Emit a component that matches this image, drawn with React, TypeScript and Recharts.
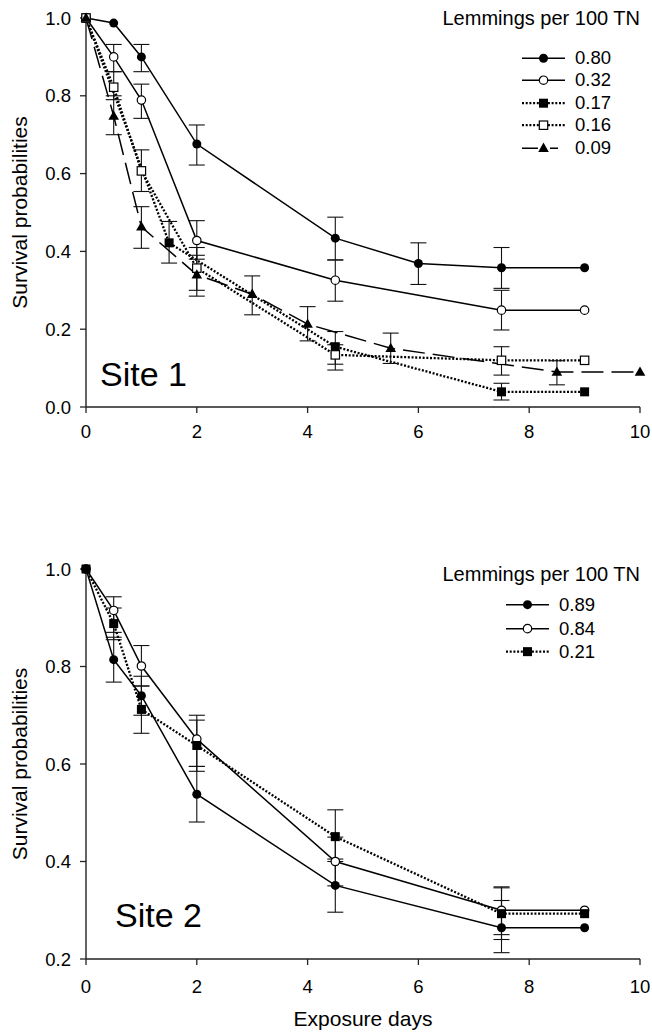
import React from "react";
import { ErrorBar, Label, Legend, Line, LineChart, XAxis, YAxis } from "recharts";

const FONT = '"Liberation Sans", Arial, Helvetica, sans-serif';
const INK = "#000";

// ---- Site 1 (days, survival, lower/upper error bounds) ----
const s1Days080 = [0, 0.5, 1, 2, 4.5, 6, 7.5, 9];
const s1Surv080 = [1.0, 0.987, 0.9, 0.676, 0.434, 0.369, 0.358, 0.358];
const s1Low080 = [null, null, 0.862, 0.622, 0.378, 0.315, 0.305, null];
const s1High080 = [null, null, 0.932, 0.725, 0.488, 0.422, 0.41, null];

const s1Days032 = [0, 0.5, 1, 2, 4.5, 7.5, 9];
const s1Surv032 = [1.0, 0.9, 0.789, 0.428, 0.326, 0.249, 0.249];
const s1Low032 = [null, 0.862, 0.742, 0.38, 0.272, 0.198, null];
const s1High032 = [null, 0.932, 0.83, 0.479, 0.378, 0.3, null];

const s1Days017 = [0, 1.5, 4.5, 7.5, 9];
const s1Surv017 = [1.0, 0.422, 0.155, 0.039, 0.039];
const s1Low017 = [null, 0.37, 0.095, 0.018, null];
const s1High017 = [null, 0.477, 0.194, 0.061, null];

const s1Days016 = [0, 0.5, 1, 2, 4.5, 7.5, 9];
const s1Surv016 = [1.0, 0.822, 0.607, 0.357, 0.134, 0.12, 0.12];
const s1Low016 = [null, 0.79, 0.554, 0.3, 0.11, 0.082, null];
const s1High016 = [null, 0.862, 0.661, 0.41, 0.16, 0.155, null];

const s1Days009 = [0, 0.5, 1, 2, 3, 4, 5.5, 8.5, 10];
const s1Surv009 = [1.0, 0.748, 0.463, 0.34, 0.29, 0.213, 0.151, 0.09, 0.09];
const s1Low009 = [null, 0.7, 0.408, 0.285, 0.237, 0.17, 0.112, 0.057, null];
const s1High009 = [null, 0.8, 0.515, 0.39, 0.337, 0.258, 0.19, 0.119, null];

// ---- Site 2 ----
const s2Days = [0, 0.5, 1, 2, 4.5, 7.5, 9];
const s2Surv089 = [1.0, 0.814, 0.74, 0.538, 0.351, 0.264, 0.264];
const s2Low089 = [null, 0.768, 0.7, 0.481, 0.296, 0.213, null];
const s2High089 = [null, 0.86, 0.78, 0.595, 0.405, 0.32, null];

const s2Surv084 = [1.0, 0.915, 0.801, 0.651, 0.4, 0.3, 0.3];
const s2Low084 = [null, 0.87, 0.76, 0.595, 0.35, 0.25, null];
const s2High084 = [null, 0.943, 0.843, 0.7, 0.45, 0.346, null];

const s2Surv021 = [1.0, 0.888, 0.712, 0.638, 0.451, 0.293, 0.293];
const s2Low021 = [null, 0.855, 0.663, 0.585, 0.4, 0.24, null];
const s2High021 = [null, 0.92, 0.76, 0.69, 0.506, 0.348, null];

const xTicks = [0, 2, 4, 6, 8, 10];
const yTicks1 = [0, 0.2, 0.4, 0.6, 0.8, 1.0];
const yTicks2 = [0.2, 0.4, 0.6, 0.8, 1.0];

type Marker = "circle" | "openCircle" | "square" | "openSquare" | "triangle";
type Stroke = "solid" | "dotted" | "dashed";

interface Series {
  name: string;
  marker: Marker;
  stroke: Stroke;
  rows: { day: number; surv: number; err: number[] | null }[];
}

const makeRows = (days: number[], surv: number[], low: (number | null)[], high: (number | null)[]) =>
  days.map((day, i) => ({
    day,
    surv: surv[i],
    err: low[i] == null || high[i] == null ? null : [surv[i] - (low[i] as number), (high[i] as number) - surv[i]],
  }));

const site1: Series[] = [
  { name: "0.80", marker: "circle", stroke: "solid", rows: makeRows(s1Days080, s1Surv080, s1Low080, s1High080) },
  { name: "0.32", marker: "openCircle", stroke: "solid", rows: makeRows(s1Days032, s1Surv032, s1Low032, s1High032) },
  { name: "0.17", marker: "square", stroke: "dotted", rows: makeRows(s1Days017, s1Surv017, s1Low017, s1High017) },
  { name: "0.16", marker: "openSquare", stroke: "dotted", rows: makeRows(s1Days016, s1Surv016, s1Low016, s1High016) },
  { name: "0.09", marker: "triangle", stroke: "dashed", rows: makeRows(s1Days009, s1Surv009, s1Low009, s1High009) },
];

const site2: Series[] = [
  { name: "0.89", marker: "circle", stroke: "solid", rows: makeRows(s2Days, s2Surv089, s2Low089, s2High089) },
  { name: "0.84", marker: "openCircle", stroke: "solid", rows: makeRows(s2Days, s2Surv084, s2Low084, s2High084) },
  { name: "0.21", marker: "square", stroke: "dotted", rows: makeRows(s2Days, s2Surv021, s2Low021, s2High021) },
];

const strokeProps = (s: Stroke) => {
  if (s === "dotted") return { strokeWidth: 2.3, strokeDasharray: "2 1.7" };
  if (s === "dashed") return { strokeWidth: 1.5, strokeDasharray: "22 8" };
  return { strokeWidth: 1.5 };
};

const drawMarker = (kind: Marker, cx: number, cy: number, key?: string) => {
  switch (kind) {
    case "circle":
      return <circle key={key} cx={cx} cy={cy} r={4.5} fill="#000" />;
    case "openCircle":
      return <circle key={key} cx={cx} cy={cy} r={4.2} fill="#fff" stroke="#000" strokeWidth={1.2} />;
    case "square":
      return <rect key={key} x={cx - 4.5} y={cy - 4.5} width={9} height={9} fill="#000" />;
    case "openSquare":
      return <rect key={key} x={cx - 4.2} y={cy - 4.2} width={8.4} height={8.4} fill="#fff" stroke="#000" strokeWidth={1.2} />;
    default:
      return <polygon key={key} points={`${cx},${cy - 5.6} ${cx + 5.3},${cy + 3.7} ${cx - 5.3},${cy + 3.7}`} fill="#000" />;
  }
};

const makeLegend = (series: Series[], titleTop: number, rowsTop: number, rowH: number, rowLeft: number) => () =>
  (
    <div style={{ position: "relative", width: 212, height: rowsTop + rowH * series.length, fontFamily: FONT, color: INK }}>
      <div style={{ position: "absolute", top: titleTop, right: 2, fontSize: 20, lineHeight: "20px", whiteSpace: "nowrap" }}>
        Lemmings per 100 TN
      </div>
      {series.map((s, i) => (
        <div
          key={s.name}
          style={{ position: "absolute", left: rowLeft, top: rowsTop + i * rowH, height: rowH, display: "flex", alignItems: "center" }}
        >
          <svg width={43} height={rowH}>
            <line
              x1={0}
              x2={43}
              y1={rowH / 2}
              y2={rowH / 2}
              stroke="#000"
              {...strokeProps(s.stroke)}
              strokeDasharray={s.stroke === "dashed" ? "16 12 8" : strokeProps(s.stroke).strokeDasharray}
            />
            {drawMarker(s.marker, 21.5, rowH / 2)}
          </svg>
          <span style={{ marginLeft: 10, fontSize: 18.5, lineHeight: `${rowH}px` }}>{s.name}</span>
        </div>
      ))}
    </div>
  );

const yLabel = (props: any) => {
  const vb = props.viewBox;
  const cy = vb.y + vb.height / 2;
  return (
    <text x={27} y={cy} transform={`rotate(-90 27 ${cy})`} textAnchor="middle" fontSize={21} fontFamily={FONT} fill={INK}>
      Survival probabilities
    </text>
  );
};

const xLabel = (props: any) => {
  const vb = props.viewBox;
  return (
    <text x={vb.x + vb.width / 2} y={vb.y + 67} textAnchor="middle" fontSize={21} fontFamily={FONT} fill={INK}>
      Exposure days
    </text>
  );
};

interface PanelProps {
  series: Series[];
  height: number;
  xAxisHeight: number;
  yDomain: [number, number];
  yTicks: number[];
  xTickMargin: number;
  legend: () => React.ReactElement;
  site: string;
  siteX: number;
  siteY: number;
  showXLabel?: boolean;
}

const Panel = ({ series, height, xAxisHeight, yDomain, yTicks, xTickMargin, legend, site, siteX, siteY, showXLabel }: PanelProps) => (
  <div style={{ position: "relative", width: 652, height }}>
    <LineChart width={652} height={height} margin={{ top: 18, right: 12, bottom: 0, left: 0 }}>
      <XAxis
        type="number"
        dataKey="day"
        domain={[0, 10]}
        ticks={xTicks}
        height={xAxisHeight}
        axisLine={{ stroke: "#222", strokeWidth: 1.4 }}
        tickLine={{ stroke: "#222", strokeWidth: 1.3 }}
        tickSize={6}
        tickMargin={xTickMargin}
        tick={{ fontSize: 18.5, fill: INK, fontFamily: FONT }}
      >
        {showXLabel && <Label content={xLabel} />}
      </XAxis>
      <YAxis
        type="number"
        domain={yDomain}
        ticks={yTicks}
        width={86}
        axisLine={{ stroke: "#222", strokeWidth: 1.4 }}
        tickLine={{ stroke: "#222", strokeWidth: 1.3 }}
        tickSize={6}
        tickMargin={9}
        tickFormatter={(v: number) => v.toFixed(1)}
        tick={{ fontSize: 18.5, fill: INK, fontFamily: FONT }}
      >
        <Label content={yLabel} />
      </YAxis>
      <Legend
        layout="horizontal"
        verticalAlign="middle"
        align="center"
        wrapperStyle={{ left: 430, top: 0, width: 212 }}
        content={legend}
      />
      {series.map((s) => (
        <Line
          key={s.name}
          data={s.rows}
          dataKey="surv"
          name={s.name}
          type="linear"
          stroke="#000"
          {...strokeProps(s.stroke)}
          dot={(p: any) => drawMarker(s.marker, p.cx, p.cy, `${s.name}-${p.index}`)}
          activeDot={false}
          isAnimationActive={false}
        >
          <ErrorBar dataKey="err" direction="y" width={8} stroke="#111" strokeWidth={1.1} isAnimationActive={false} />
        </Line>
      ))}
    </LineChart>
    <svg width={652} height={height} style={{ position: "absolute", left: 0, top: 0, pointerEvents: "none" }}>
      <text x={siteX} y={siteY} fontSize={34} fontFamily={FONT} fill={INK}>
        {site}
      </text>
    </svg>
  </div>
);

export default function App() {
  return (
    <div style={{ position: "absolute", left: 0, top: 0, width: 652, height: 1033, background: "#fff" }}>
      <div style={{ position: "absolute", left: 0, top: 0 }}>
        <Panel
          series={site1}
          height={450}
          xAxisHeight={43}
          yDomain={[0, 1]}
          yTicks={yTicks1}
          xTickMargin={12}
          legend={makeLegend(site1, 8, 47, 22.4, 92)}
          site="Site 1"
          siteX={100}
          siteY={386}
        />
      </div>
      <div style={{ position: "absolute", left: 0, top: 551 }}>
        <Panel
          series={site2}
          height={482}
          xAxisHeight={74}
          yDomain={[0.2, 1]}
          yTicks={yTicks2}
          xTickMargin={15}
          legend={makeLegend(site2, 12.5, 42.3, 23.3, 76)}
          site="Site 2"
          siteX={115}
          siteY={376}
          showXLabel
        />
      </div>
    </div>
  );
}
